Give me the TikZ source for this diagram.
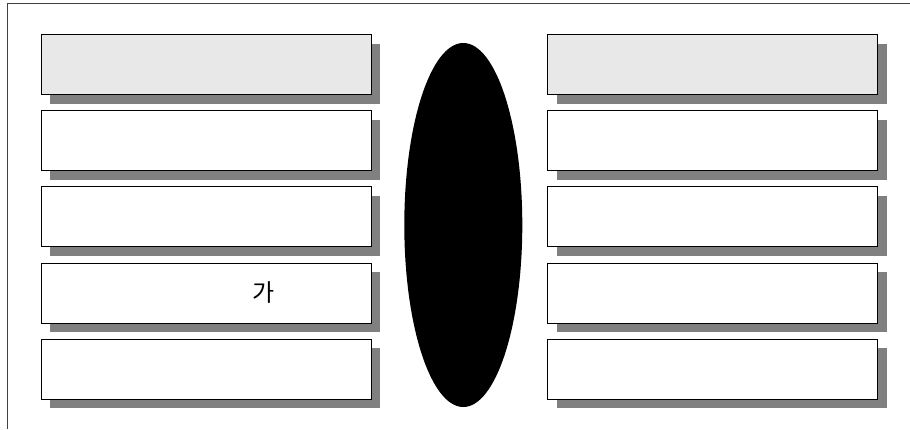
\documentclass[tikz,border=0pt]{standalone}
\usepackage{fontspec}
\newfontfamily\krfont{Noto Sans CJK KR}
\usetikzlibrary{shadows, shapes.geometric}

\tikzset{
  slot/.style={rectangle, draw=black, line width=1pt, fill=white,
    minimum width=330pt, minimum height=60pt, inner sep=0pt, outer sep=0pt,
    anchor=north west,
    drop shadow={shadow xshift=9pt, shadow yshift=-9pt, fill=gray, opacity=1}},
  headslot/.style={slot, fill=gray!18},
  hub/.style={ellipse, fill=black, minimum width=118pt, minimum height=364pt, inner sep=0pt},
}

\begin{document}
\begin{tikzpicture}[x=1pt, y=-1pt]
    \useasboundingbox (0,0) rectangle (910,429);

    % Frame (top and left edge only)
    \draw[line width=1pt, black!75] (7.5,429) -- (7.5,3.7) -- (910,3.7);

    % Top row, shaded
    \node[headslot] (L1) at (41.3,34.5) {};
    \node[headslot] (R1) at (547.5,34.5) {};

    % Remaining rows
    \foreach \i [evaluate=\i as \y using 34.5+(\i-1)*76.2] in {2,...,5} {
        \node[slot] (L\i) at (41.3,\y) {};
        \node[slot] (R\i) at (547.5,\y) {};
    }

    % Centre ellipse
    \node[hub] (E) at (463.3,225) {};

    % Label
    \node[font=\krfont\fontsize{24}{28}\selectfont, inner sep=0pt] (ga) at ([xshift=57pt,yshift=1pt]L4.center) {가};
\end{tikzpicture}
\end{document}
